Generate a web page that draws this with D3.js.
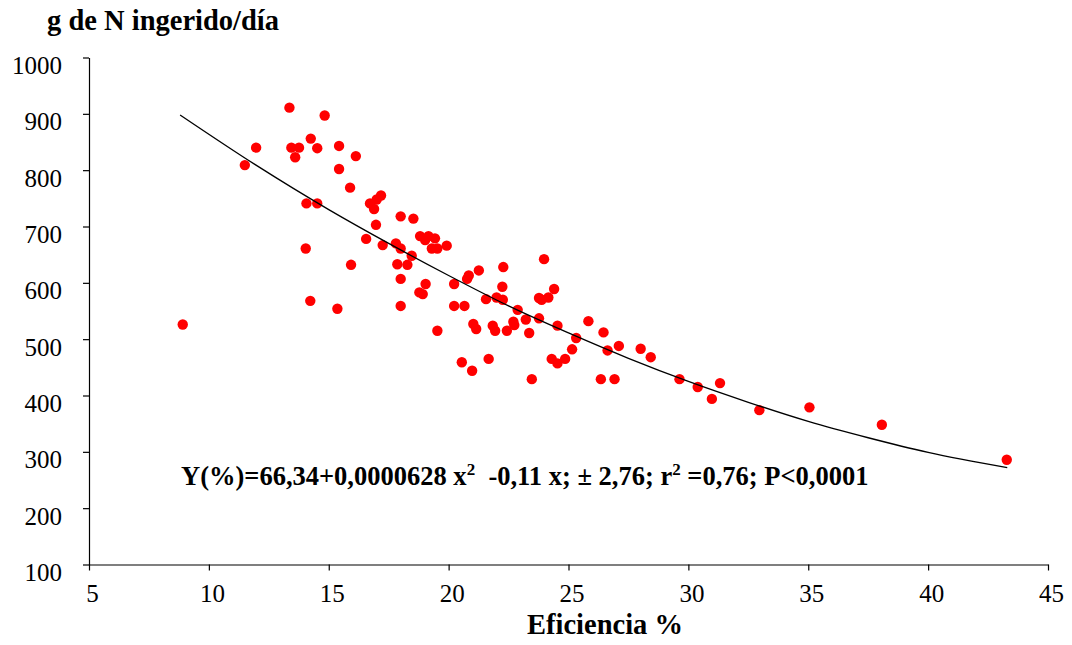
<!DOCTYPE html>
<html>
<head>
<meta charset="utf-8">
<script src="https://cdn.jsdelivr.net/npm/d3@7"></script>
<style>
  body { margin: 0; background: #fff; }
  svg text { font-family: "Liberation Serif", "Times New Roman", serif; fill: #000; }
</style>
</head>
<body>
<div id="chart"></div>
<script>
// data
var eficiencia = [13.36, 14.83, 11.97, 11.50, 13.44, 13.76, 13.60, 14.25, 14.52, 15.43,
  16.13, 15.43, 15.89, 14.07, 14.52, 14.04, 15.93, 16.72, 16.89, 17.00,
  17.18, 16.97, 16.56, 17.25, 17.80, 18.00, 18.53, 18.81, 19.16, 19.43,
  19.02, 19.30, 19.53, 19.92, 18.00, 18.46, 17.86, 18.28, 18.00, 18.00,
  19.04, 18.78, 18.92, 19.53, 20.23, 20.23, 20.66, 20.84, 20.77, 21.26,
  22.28, 22.24, 21.56, 22.00, 22.26, 21.03, 21.15, 21.84, 21.94, 22.43,
  22.70, 22.74, 23.22, 22.88, 23.36, 23.77, 23.77, 23.88, 24.16, 24.40,
  23.98, 24.54, 20.55, 20.98, 21.67, 23.47, 24.30, 24.54, 24.86, 25.15,
  25.32, 25.83, 26.46, 26.63, 27.10, 26.35, 26.92, 29.63, 30.39, 31.32,
  30.98, 32.96, 28.01, 28.43, 35.05, 38.07, 43.28, 8.91, 14.23, 15.36];
var nIngerido = [911, 897, 840, 809, 840, 840, 823, 856, 839, 843,
  825, 802, 769, 741, 741, 661, 632, 741, 731, 748,
  755, 703, 678, 667, 670, 718, 714, 683, 683, 679,
  676, 661, 661, 666, 661, 648, 633, 632, 607, 559,
  598, 583, 580, 515, 598, 559, 559, 613, 607, 622,
  628, 593, 571, 574, 570, 527, 518, 524, 515, 515,
  531, 525, 535, 552, 511, 537, 573, 570, 574, 589,
  642, 524, 459, 444, 465, 429, 465, 457, 465, 482,
  502, 532, 512, 480, 488, 429, 429, 429, 415, 422,
  394, 374, 483, 468, 379, 348, 286, 526, 568, 554];

// trend line
var curvaX = [8.8, 12, 15, 17.5, 20, 22.5, 25, 27.5, 30, 32.5, 35, 37.5, 40, 43.3];
var curvaY = [898, 808, 730, 670, 613, 559, 511, 466, 425, 388, 354, 325, 299, 272];

var xTicks = [5, 10, 15, 20, 25, 30, 35, 40, 45];
var yTicks = [100, 200, 300, 400, 500, 600, 700, 800, 900, 1000];

var width = 1072, height = 645;

var svg = d3.select("#chart").append("svg")
    .attr("width", width)
    .attr("height", height);

var x = d3.scaleLinear().domain([5, 45]).range([89, 1048]);
var y = d3.scaleLinear().domain([100, 1000]).range([564.5, 57.5]);

// axes
var xAxis = svg.append("g")
    .attr("transform", "translate(0," + y(100) + ")")
    .call(d3.axisBottom(x).tickValues(xTicks).tickSize(6).tickSizeOuter(0));
xAxis.selectAll("text")
    .attr("y", 37).attr("dy", null).attr("dx", 3)
    .style("font-size", "25px");

var yAxis = svg.append("g")
    .attr("transform", "translate(" + x(5) + ",0)")
    .call(d3.axisLeft(y).tickValues(yTicks).tickFormat(d3.format("d"))
      .tickSize(6).tickSizeOuter(0));
yAxis.selectAll("text")
    .attr("x", -27).attr("dy", null).attr("y", 16)
    .style("font-size", "25px");

svg.selectAll(".domain, .tick line").attr("stroke", "#000").attr("stroke-width", 1.2);

// points
svg.append("g").selectAll("circle")
    .data(eficiencia)
  .enter().append("circle")
    .attr("cx", function(d) { return x(d); })
    .attr("cy", function(d, i) { return y(nIngerido[i]); })
    .attr("r", 5.2)
    .style("fill", "#ff0000");

// trend line
var line = d3.line()
    .x(function(d) { return x(d); })
    .y(function(d, i) { return y(curvaY[i]); })
    .curve(d3.curveMonotoneX);

svg.append("path")
    .datum(curvaX)
    .attr("d", line)
    .attr("fill", "none")
    .attr("stroke", "#000")
    .attr("stroke-width", 1.3);

// titles
svg.append("text")
    .attr("x", 47).attr("y", 30)
    .style("font-size", "28.5px").style("font-weight", "bold")
    .text("g de N ingerido/día");

svg.append("text")
    .attr("x", 605).attr("y", 634)
    .attr("text-anchor", "middle")
    .style("font-size", "28.5px").style("font-weight", "bold")
    .text("Eficiencia %");

// equation
var eq = svg.append("text")
    .attr("x", 181).attr("y", 485)
    .style("font-size", "26.5px").style("font-weight", "bold");
eq.append("tspan").text("Y(%)=66,34+0,0000628 x");
eq.append("tspan").attr("dy", -10).style("font-size", "17px").text("2");
eq.append("tspan").attr("dy", 10).text("\u00a0 -0,11 x; \u00b1 2,76; r");
eq.append("tspan").attr("dy", -10).style("font-size", "17px").text("2");
eq.append("tspan").attr("dy", 10).text("\u00a0=0,76; P<0,0001");
</script>
</body>
</html>
